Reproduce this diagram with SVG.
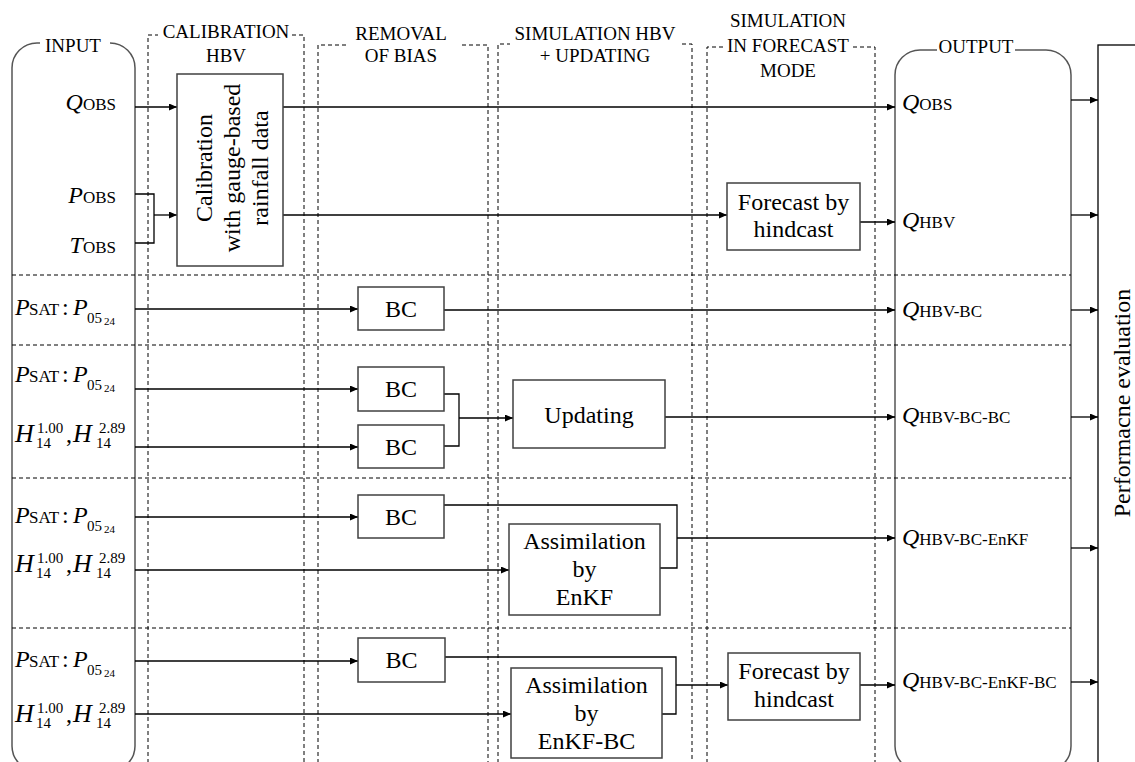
<svg xmlns="http://www.w3.org/2000/svg" width="1135" height="762" viewBox="0 0 1135 762">
<defs>
<style>
text{font-family:"Liberation Serif","Times New Roman",serif;fill:#000}
.hd{font-size:19px;text-anchor:middle}
.bx{font-size:24px;text-anchor:middle}
.box{fill:#fff;stroke:#404040;stroke-width:1.5}
.rnd{fill:none;stroke:#555;stroke-width:1.5}
.dash{fill:none;stroke:#000;stroke-width:1;stroke-dasharray:4 3}
.ln{fill:none;stroke:#000;stroke-width:1.3}
.arr{fill:none;stroke:#000;stroke-width:1.3;marker-end:url(#ah)}
.it{font-style:italic;font-size:24px}
.sb{font-size:17px}
.mi{font-style:italic;font-size:26px}
.dg{font-size:15px}
.dg2{font-size:11px}
</style>
<marker id="ah" markerWidth="9" markerHeight="8" refX="8" refY="3.5" orient="auto" markerUnits="userSpaceOnUse"><path d="M0,0 L8,3.5 L0,7 z" fill="#000"/></marker>
</defs>
<rect width="1135" height="762" fill="#fff"/>

<g id="columns">
<path class="dash" d="M148 770 V35 H158 M292 35 H304 V770"/>
<text class="hd" x="226" y="38">CALIBRATION</text>
<text class="hd" x="226" y="62">HBV</text>
<path class="dash" d="M318 770 V45 H348 M462 45 H488 V770"/>
<text class="hd" x="401" y="40">REMOVAL</text>
<text class="hd" x="401" y="62">OF BIAS</text>
<path class="dash" d="M498 770 V44 H510 M682 44 H692 V770"/>
<text class="hd" x="595" y="40">SIMULATION HBV</text>
<text class="hd" x="595" y="62">+ UPDATING</text>
<path class="dash" d="M707 770 V47 H725 M853 47 H875 V770"/>
<text class="hd" x="788" y="27">SIMULATION</text>
<text class="hd" x="788" y="52">IN FORECAST</text>
<text class="hd" x="788" y="77">MODE</text>
</g>

<g id="input">
<path class="rnd" d="M40 43 H37 A25 25 0 0 0 12 68 V746 A25 25 0 0 0 37 771 H110 A25 25 0 0 0 135 746 V68 A25 25 0 0 0 110 43"/>
<text class="hd" x="73" y="52">INPUT</text>
</g>

<g id="output">
<path class="rnd" d="M937 50 H920 A25 25 0 0 0 895 75 V746 A25 25 0 0 0 920 771 H1046 A25 25 0 0 0 1071 746 V75 A25 25 0 0 0 1046 50 H1015"/>
<text class="hd" x="976" y="53">OUTPUT</text>
</g>

<g id="separators">
<path class="dash" d="M12 275 H1071 M12 345 H1071 M12 478 H1071 M12 628 H1071"/>
</g>

<g id="perf">
<rect x="1098" y="45" width="100" height="800" fill="#fff" stroke="#000" stroke-width="1.3"/>
<text class="bx" transform="translate(1130,403) rotate(-90)">Performacne evaluation</text>
</g>

<g id="input-labels">
<text x="116" y="110" text-anchor="end"><tspan class="it">Q</tspan><tspan class="sb">OBS</tspan></text>
<text x="116" y="203" text-anchor="end"><tspan class="it">P</tspan><tspan class="sb">OBS</tspan></text>
<text x="116" y="253" text-anchor="end"><tspan class="it">T</tspan><tspan class="sb">OBS</tspan></text>

<g id="psat2">
<text class="it" x="15" y="315">P</text><text class="sb" x="29" y="315">SAT</text><text font-size="24" x="62" y="315">:</text>
<text class="it" x="73" y="315">P</text><text class="dg" x="87" y="323">05</text><text class="dg2" x="104" y="325">24</text>
</g>
<g id="psat3">
<text class="it" x="15" y="382">P</text><text class="sb" x="29" y="382">SAT</text><text font-size="24" x="62" y="382">:</text>
<text class="it" x="73" y="382">P</text><text class="dg" x="87" y="390">05</text><text class="dg2" x="104" y="392">24</text>
</g>
<g id="h3">
<text class="mi" x="15" y="442">H</text><text class="dg" x="37" y="433">1.00</text><text class="dg" x="36" y="448">14</text>
<text font-size="24" x="66" y="442">,</text>
<text class="mi" x="73" y="442">H</text><text class="dg" x="99" y="433">2.89</text><text class="dg" x="96" y="448">14</text>
</g>
<g id="psat4">
<text class="it" x="15" y="523">P</text><text class="sb" x="29" y="523">SAT</text><text font-size="24" x="62" y="523">:</text>
<text class="it" x="73" y="523">P</text><text class="dg" x="87" y="531">05</text><text class="dg2" x="104" y="533">24</text>
</g>
<g id="h4">
<text class="mi" x="15" y="572">H</text><text class="dg" x="37" y="563">1.00</text><text class="dg" x="36" y="578">14</text>
<text font-size="24" x="66" y="572">,</text>
<text class="mi" x="73" y="572">H</text><text class="dg" x="99" y="563">2.89</text><text class="dg" x="96" y="578">14</text>
</g>
<g id="psat5">
<text class="it" x="15" y="667">P</text><text class="sb" x="29" y="667">SAT</text><text font-size="24" x="62" y="667">:</text>
<text class="it" x="73" y="667">P</text><text class="dg" x="87" y="675">05</text><text class="dg2" x="104" y="677">24</text>
</g>
<g id="h5">
<text class="mi" x="15" y="722">H</text><text class="dg" x="37" y="713">1.00</text><text class="dg" x="36" y="728">14</text>
<text font-size="24" x="66" y="722">,</text>
<text class="mi" x="73" y="722">H</text><text class="dg" x="99" y="713">2.89</text><text class="dg" x="96" y="728">14</text>
</g>
</g>

<g id="output-labels">
<text x="902" y="110"><tspan class="it">Q</tspan><tspan class="sb">OBS</tspan></text>
<text x="902" y="228"><tspan class="it">Q</tspan><tspan class="sb">HBV</tspan></text>
<text x="902" y="317"><tspan class="it">Q</tspan><tspan class="sb">HBV-BC</tspan></text>
<text x="902" y="423"><tspan class="it">Q</tspan><tspan class="sb">HBV-BC-BC</tspan></text>
<text x="902" y="545"><tspan class="it">Q</tspan><tspan class="sb">HBV-BC-EnKF</tspan></text>
<text x="902" y="688"><tspan class="it">Q</tspan><tspan class="sb" font-size="16.5">HBV-BC-EnKF-BC</tspan></text>
</g>

<g id="connectors">
<path class="arr" d="M135 107 H177"/>
<path class="arr" d="M283 107 H895"/>
<path class="ln" d="M135 194 H154 V243 H135"/>
<path class="arr" d="M154 215 H177"/>
<path class="arr" d="M283 215 H727"/>
<path class="arr" d="M860 222 H895"/>
<path class="arr" d="M135 309 H358"/>
<path class="arr" d="M444 310 H895"/>
<path class="arr" d="M135 389 H358"/>
<path class="arr" d="M135 447 H358"/>
<path class="ln" d="M444 394 H459 V446 H444"/>
<path class="arr" d="M459 418 H513"/>
<path class="arr" d="M665 417 H895"/>
<path class="arr" d="M135 517 H358"/>
<path class="arr" d="M135 570 H509"/>
<path class="ln" d="M444 505 H677 V568 H660"/>
<path class="arr" d="M677 538 H895"/>
<path class="arr" d="M135 661 H358"/>
<path class="arr" d="M135 714 H511"/>
<path class="ln" d="M445 657 H676 V714 H662"/>
<path class="arr" d="M676 685 H728"/>
<path class="arr" d="M860 685 H895"/>
<path class="arr" d="M1071 100 H1098"/>
<path class="arr" d="M1071 215 H1098"/>
<path class="arr" d="M1071 310 H1098"/>
<path class="arr" d="M1071 417 H1098"/>
<path class="arr" d="M1071 548 H1098"/>
<path class="arr" d="M1071 682 H1098"/>
</g>

<g id="calibration">
<rect class="box" x="177" y="74" width="106" height="192"/>
<text class="bx" transform="translate(212,168) rotate(-90)">Calibration</text>
<text class="bx" transform="translate(240,168) rotate(-90)">with gauge-based</text>
<text class="bx" transform="translate(268,168) rotate(-90)">rainfall data</text>
</g>
<g id="forecast1">
<rect class="box" x="727" y="183" width="133" height="67"/>
<text class="bx" x="793.5" y="210">Forecast by</text>
<text class="bx" x="793.5" y="237">hindcast</text>
</g>
<g id="bc2">
<rect class="box" x="358" y="287" width="86" height="43"/>
<text class="bx" x="401" y="317">BC</text>
</g>
<g id="bc3a">
<rect class="box" x="358" y="367" width="86" height="44"/>
<text class="bx" x="401" y="397">BC</text>
</g>
<g id="bc3b">
<rect class="box" x="358" y="425" width="86" height="43"/>
<text class="bx" x="401" y="455">BC</text>
</g>
<g id="updating">
<rect class="box" x="513" y="380" width="152" height="68"/>
<text class="bx" x="589" y="423">Updating</text>
</g>
<g id="bc4">
<rect class="box" x="358" y="495" width="86" height="43"/>
<text class="bx" x="401" y="525">BC</text>
</g>
<g id="enkf">
<rect class="box" x="509" y="524" width="151" height="91"/>
<text class="bx" x="584.5" y="549">Assimilation</text>
<text class="bx" x="584.5" y="577">by</text>
<text class="bx" x="584.5" y="605">EnKF</text>
</g>
<g id="bc5">
<rect class="box" x="358" y="638" width="87" height="44"/>
<text class="bx" x="401.5" y="668">BC</text>
</g>
<g id="enkfbc">
<rect class="box" x="511" y="668" width="151" height="90"/>
<text class="bx" x="586.5" y="693">Assimilation</text>
<text class="bx" x="586.5" y="721">by</text>
<text class="bx" x="586.5" y="749">EnKF-BC</text>
</g>
<g id="forecast2">
<rect class="box" x="728" y="653" width="132" height="67"/>
<text class="bx" x="794" y="679">Forecast by</text>
<text class="bx" x="794" y="707">hindcast</text>
</g>
</svg>
